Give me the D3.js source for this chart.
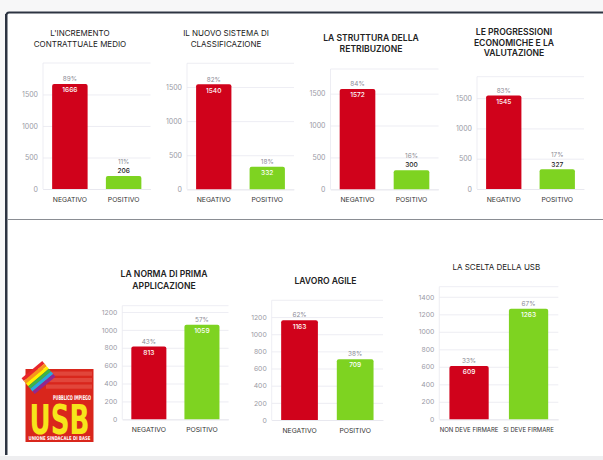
<!DOCTYPE html>
<html><head><meta charset="utf-8">
<script src="https://cdn.jsdelivr.net/npm/d3@7"></script>
<style>
html,body{margin:0;padding:0;background:#f6f6f7;}
svg{display:block;}
</style></head>
<body>
<svg id="c" width="603" height="460"></svg>
<script>
// ---- data ----
const chartTitles = [
  ["L'INCREMENTO", "CONTRATTUALE MEDIO"],
  ["IL NUOVO SISTEMA DI", "CLASSIFICAZIONE"],
  ["LA STRUTTURA DELLA", "RETRIBUZIONE"],
  ["LE PROGRESSIONI", "ECONOMICHE E LA", "VALUTAZIONE"],
  ["LA NORMA DI PRIMA", "APPLICAZIONE"],
  ["LAVORO AGILE"],
  ["LA SCELTA DELLA USB"]
];
const categoriesVote = ["NEGATIVO", "POSITIVO"];
const categoriesUsb = ["NON DEVE FIRMARE", "SI DEVE FIRMARE"];
const negativeValues = [1666, 1540, 1572, 1545, 813, 1163, 609];
const positiveValues = [206, 332, 300, 327, 1059, 709, 1263];
const negativePct = ["89%", "82%", "84%", "83%", "43%", "62%", "33%"];
const positivePct = ["11%", "18%", "16%", "17%", "57%", "38%", "67%"];
const tickSteps = [500, 500, 500, 500, 200, 200, 200];
const logoTexts = ["PUBBLICO IMPIEGO", "USB", "UNIONE SINDACALE DI BASE"];

// ---- layout (positions / styles) ----
const layout = [
  {x0:43,   x1:150.5, y0:63,    y1:189,   tx:80,    ty:33.5, lh:11,   fs:8,   fw:400, cat:categoriesVote},
  {x0:187,  x1:294,   y0:63.3,  y1:189.3, tx:226,   ty:33.5, lh:11,   fs:8,   fw:400, cat:categoriesVote},
  {x0:330.5,x1:438.5, y0:69,    y1:189.3, tx:371,   ty:37.7, lh:11,   fs:8.6, fw:600, cat:categoriesVote},
  {x0:477,  x1:584,   y0:76.7,  y1:189,   tx:514,   ty:31.7, lh:10.8, fs:8.6, fw:600, cat:categoriesVote},
  {x0:122.3,x1:228.5, y0:305.7, y1:419.3, tx:164,   ty:274.3,lh:11.4, fs:8.6, fw:600, cat:categoriesVote},
  {x0:271.7,x1:383,   y0:300.3, y1:420,   tx:325.5, ty:281,  lh:11,   fs:8.6, fw:600, cat:categoriesVote},
  {x0:439.3,x1:558.3, y0:286.7, y1:419.3, tx:496.3, ty:267.3,lh:11,   fs:8,   fw:400, cat:categoriesUsb}
];
const RED = "#d0021b", GREEN = "#7ed321";
const FONT = "Inter, 'Noto Sans', sans-serif";
const NARROW = "'Liberation Sans Narrow','DejaVu Sans Condensed','Liberation Sans',sans-serif";

const svg = d3.select("#c");

// frame
svg.append("rect").attr("x",0).attr("y",0).attr("width",603).attr("height",460).attr("fill","#f7f7f8");
svg.append("rect").attr("x",5.5).attr("y",11.5).attr("width",620).attr("height",445)
  .attr("rx",3).attr("fill","#ffffff");
svg.append("path").attr("d","M6.5,455 L6.5,15 Q6.5,12.5 9,12.5 L603,12.5")
  .attr("fill","none").attr("stroke","#2d3442").attr("stroke-width",2);
svg.append("line").attr("x1",5.6).attr("x2",5.6).attr("y1",14).attr("y2",455)
  .attr("stroke","#2d3442").attr("stroke-width",1.2);
svg.append("line").attr("x1",8).attr("x2",603).attr("y1",219.5).attr("y2",219.5)
  .attr("stroke","#8a8d93").attr("stroke-width",1);
svg.append("rect").attr("x",0).attr("y",456).attr("width",603).attr("height",4).attr("fill","#eeeef0");

// charts
layout.forEach((L, i) => {
  const g = svg.append("g");
  const vals = [negativeValues[i], positiveValues[i]];
  const pcts = [negativePct[i], positivePct[i]];
  const cats = L.cat;
  const maxV = d3.max(vals) * 1.2;
  const y = d3.scaleLinear().domain([0, maxV]).range([L.y1, L.y0]);
  const x = d3.scaleBand().domain(cats).range([L.x0, L.x1]).paddingInner(0.34).paddingOuter(0.17);

  // title
  const t = g.append("text").attr("text-anchor","middle").attr("font-family",FONT)
    .attr("font-size",L.fs).attr("font-weight",L.fw).attr("fill","#222");
  chartTitles[i].forEach((line, k) => {
    t.append("tspan").attr("x",L.tx).attr("y",L.ty + k*L.lh).attr("dy","0.35em").text(line);
  });

  // grid + y axis
  const ticks = d3.range(0, maxV, tickSteps[i]);
  const ya = d3.axisLeft(y).tickValues(ticks).tickFormat(d3.format("d"))
    .tickSize(-(L.x1 - L.x0)).tickPadding(5);
  const ag = g.append("g").attr("transform",`translate(${L.x0},0)`).call(ya);
  ag.select(".domain").remove();
  ag.selectAll(".tick line").attr("stroke","#e9e9f0").attr("stroke-width",0.8);
  ag.selectAll(".tick text").attr("fill","#9a9aa5").attr("font-family",FONT)
    .attr("font-size", i < 4 ? 7 : 6.8);
  g.append("line").attr("x1",L.x0).attr("x2",L.x1).attr("y1",L.y0).attr("y2",L.y0)
    .attr("stroke","#e9e9f0").attr("stroke-width",0.8);
  g.append("line").attr("x1",L.x0).attr("x2",L.x0).attr("y1",L.y0).attr("y2",L.y1)
    .attr("stroke","#e9e9f0").attr("stroke-width",0.8);

  // x axis labels
  const xa = d3.axisBottom(x).tickSize(0).tickPadding(8);
  const xg = g.append("g").attr("transform",`translate(0,${L.y1})`).call(xa);
  xg.select(".domain").attr("stroke","#e6e6ee").attr("stroke-width",0.8);
  xg.selectAll(".tick text").attr("fill","#333").attr("font-family",FONT)
    .attr("font-size", cats === categoriesUsb ? 6 : 6.8);

  // bars
  cats.forEach((c, k) => {
    const v = vals[k];
    const bx = x(c), bw = x.bandwidth();
    const top = y(v), h = L.y1 - top;
    g.append("path")
      .attr("d", `M${bx},${L.y1} L${bx},${top+2} Q${bx},${top} ${bx+2},${top} L${bx+bw-2},${top} Q${bx+bw},${top} ${bx+bw},${top+2} L${bx+bw},${L.y1} Z`)
      .attr("fill", k === 0 ? RED : GREEN);
    const cx = bx + bw/2;
    const inside = h >= 21;
    g.append("text").attr("x",cx).attr("y", inside ? top + 6 : top - 5).attr("dy","0.35em")
      .attr("text-anchor","middle").attr("font-family",FONT).attr("font-size",6.6)
      .attr("font-weight",500).attr("fill", inside ? "#ffffff" : "#222").text(v);
    g.append("text").attr("x",cx).attr("y", inside ? top - 5 : top - 14).attr("dy","0.35em")
      .attr("text-anchor","middle").attr("font-family",FONT).attr("font-size",6.4)
      .attr("fill","#8c8c96").text(pcts[k]);
  });
});

// ---- USB logo ----
// squeeze a text horizontally so it spans exactly `w` pixels from x
function fitText(parent, str, x, yb, size, w, fill) {
  const tg = parent.append("g");
  const tx = tg.append("text").attr("x",0).attr("y",0).attr("font-family",NARROW)
    .attr("font-size",size).attr("font-weight",700).attr("fill",fill).text(str);
  const nat = tx.node().getComputedTextLength();
  tg.attr("transform",`translate(${x},${yb}) scale(${w/nat},1)`);
  return tg;
}
const lg = svg.append("g");
lg.append("rect").attr("x",25.5).attr("y",369).attr("width",68).attr("height",73).attr("fill","#d9261c");
// faint background pattern
[0,1,2].forEach(k => {
  lg.append("rect").attr("x",46).attr("y",371.5 + k*6.5).attr("width",46).attr("height",4.2)
    .attr("fill","#e45448").attr("opacity",0.7);
});
const rainbow = ["#e8262b","#f7941d","#fff200","#39b54a","#27aae1","#92278f"];
const rb = lg.append("g").attr("transform","translate(28,386) rotate(-40)");
rainbow.forEach((col, k) => {
  rb.append("rect").attr("x",0).attr("y",k*3.4 - 10).attr("width",27).attr("height",3.5).attr("fill",col);
});
fitText(lg, logoTexts[0], 53, 399.5, 6.5, 38, "#ffffff");
fitText(lg, logoTexts[1], 29.5, 433.5, 40, 60, "#f7e51b");
fitText(lg, logoTexts[2], 28.5, 440.2, 5.2, 62, "#ffffff");
</script>
</body></html>
